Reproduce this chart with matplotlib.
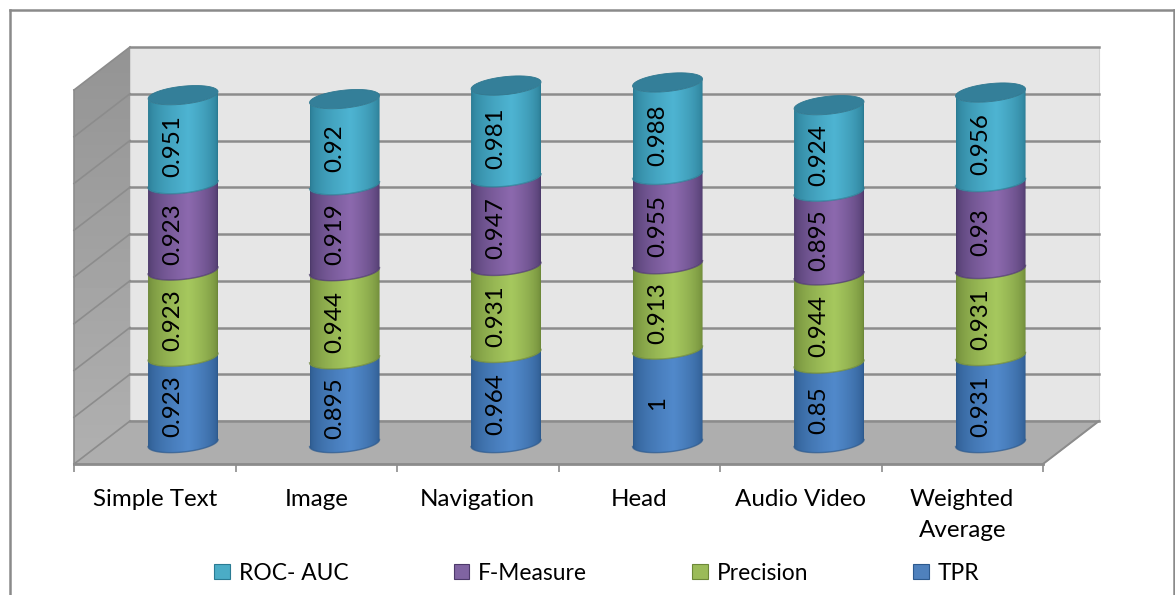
"""Stacked cylinder chart of classifier scores per page element."""

import numpy as np
import matplotlib
matplotlib.use("Agg")
import matplotlib.pyplot as plt
from matplotlib.colors import to_rgb
from matplotlib.patches import Patch, PathPatch, Polygon
from matplotlib.path import Path
from matplotlib.transforms import IdentityTransform

W, H = 1175, 595

categories = ["Simple Text", "Image", "Navigation", "Head", "Audio Video", "Weighted\nAverage"]
tpr = [0.923, 0.895, 0.964, 1, 0.85, 0.931]
precision = [0.923, 0.944, 0.931, 0.913, 0.944, 0.931]
f_measure = [0.923, 0.919, 0.947, 0.955, 0.895, 0.93]
roc_auc = [0.951, 0.92, 0.981, 0.988, 0.924, 0.956]

series_names = ["TPR", "Precision", "F-Measure", "ROC- AUC"]
# edge, centre and swatch colour for each series
shades = {
    "TPR": ("#2d5a8e", "#5189cb", "#4f81bd"),
    "Precision": ("#6d8838", "#a6c85e", "#9bbb59"),
    "F-Measure": ("#4d3a6b", "#8c69ae", "#8064a2"),
    "ROC- AUC": ("#2a7b93", "#4eb4d2", "#4bacc6"),
}

plt.rcParams["font.family"] = ["Lato", "DejaVu Sans"]
TXT = 17.4

fig = plt.figure(figsize=(W / 100, H / 100), dpi=100)
# the axes box is the front plane of the 3D box, in pixels from the top left
L, R, T, B = 74, 1043, 90, 464
ax = fig.add_axes([L / W, 1 - B / H, (R - L) / W, (B - T) / H])
ax.set_xlim(-0.5, 5.5)
ax.set_ylim(0, 4)
ax.patch.set_visible(False)
for s in ax.spines.values():
    s.set_visible(False)
ax.set_yticks(np.arange(0, 4.5, 0.5))
ax.set_yticklabels([])
ax.tick_params(axis="y", length=0)
ax.set_xticks(np.arange(-0.5, 6.0, 1))
ax.set_xticklabels([])
ax.tick_params(axis="x", length=6, width=1.2, color="#8c8c8c")

DX, DY = 56, 43       # depth of the box
CX, CY = 28.3, 21     # cylinders stand halfway into it
ident = IdentityTransform()


def px(x, y, dx=0.0, dy=0.0):
    p = ax.transData.transform((x, y))
    return p[0] + dx, p[1] + dy


def poly(pts, **kw):
    fig.add_artist(Polygon(pts, closed=True, transform=ident, **kw))


def line(a, b, **kw):
    ax.plot([a[0], b[0]], [a[1], b[1]], transform=ident, clip_on=False, **kw)


# outer frame
for a, b in [((10, 10), (1174, 10)), ((10, 10), (10, 595)), ((1174, 10), (1174, 595))]:
    line((a[0], H - a[1]), (b[0], H - b[1]), color="#8a8a8a", lw=1.8, zorder=1)

# walls and floor
x0, x1 = -0.5, 5.5
poly([px(x0, 0, DX, DY), px(x1, 0, DX, DY), px(x1, 4, DX, DY), px(x0, 4, DX, DY)],
     facecolor="#e6e6e6", edgecolor="#d4d4d4", lw=0.8, zorder=-3)
poly([px(x0, 0), px(x1, 0), px(x1, 0, DX, DY), px(x0, 0, DX, DY)],
     facecolor="#aeaeae", edgecolor="#9a9a9a", lw=0.8, zorder=-3)

# side wall gets lighter towards the floor
side = [px(x0, 0), px(x0, 0, DX, DY), px(x0, 4, DX, DY), px(x0, 4)]
side_im = ax.imshow(np.linspace(0.58, 0.69, 64)[:, None], cmap="gray", vmin=0, vmax=1,
                    extent=(px(x0, 0)[0], px(x0, 0, DX)[0], px(x0, 0)[1], px(x0, 4, 0, DY)[1]),
                    transform=ident, aspect="auto", zorder=0.5)
side_im.set_clip_box(fig.bbox)
side_im.set_clip_path(PathPatch(Path(np.array(side + side[:1])), transform=ident))

# gridlines run along the side wall and across the back
for v in ax.get_yticks():
    line(px(x0, v), px(x0, v, DX, DY), color="#8c8c8c", lw=1.2, zorder=1.5)
    line(px(x0, v, DX, DY), px(x1, v, DX, DY), color="#8c8c8c", lw=1.8, zorder=1.5)
line(px(x1, 0), px(x1, 0, DX, DY), color="#8c8c8c", lw=1.4, zorder=1.5)
line(px(x0, 0), px(x1, 0), color="#8c8c8c", lw=2, zorder=1.6)
line(px(x0, 0), px(x0, 4), color="#8c8c8c", lw=1.2, zorder=1.6)

RX, RY, TILT = 35, 9, 0.1


def arc(cx, cy, t0, t1, n=50):
    t = np.linspace(t0, t1, n)
    return np.c_[cx + RX * np.cos(t), cy + RY * np.sin(t) + TILT * RX * np.cos(t)]


def gradient(name):
    edge, mid, _ = shades[name]
    e, m = np.array(to_rgb(edge)), np.array(to_rgb(mid))
    u = np.linspace(0, 1, 70)
    k = np.clip(1 - np.abs(u - 0.58) / np.where(u < 0.58, 0.58, 0.42), 0, 1) ** 0.55
    return (e + (m - e) * k[:, None])[None, :, :]


def segment(i, y0, y1, name, z):
    cx, b = px(i, y0, CX, CY)
    _, t = px(i, y1, CX, CY)
    bottom = arc(cx, b, np.pi, 2 * np.pi)
    top = arc(cx, t, 2 * np.pi, np.pi)
    clip = PathPatch(Path(np.r_[bottom, top, bottom[:1]]), transform=ident)
    im = ax.imshow(gradient(name), extent=(cx - RX, cx + RX, b - RY - 6, t + RY + 6),
                   transform=ident, aspect="auto", zorder=z, interpolation="bilinear")
    im.set_clip_box(fig.bbox)
    im.set_clip_path(clip)
    ax.plot(bottom[:, 0], bottom[:, 1], transform=ident, color=shades[name][0],
            lw=1.0, alpha=0.7, zorder=z + 0.01, clip_on=False)
    return cx, t


stack = [tpr, precision, f_measure, roc_auc]
for i in range(len(categories)):
    y0 = 0.0
    for k, name in enumerate(series_names):
        val = stack[k][i]
        cx, t = segment(i, y0, y0 + val, name, 2 + k)
        mx, my = px(i, y0 + val / 2, CX, CY)
        ax.text(mx - 10, my - 6.5, f"{val:g}", transform=ident, rotation=90, ha="center",
                va="center", fontsize=TXT, color="black", zorder=8)
        y0 += val
    # top face of the cylinder
    poly(arc(cx, t, 0, 2 * np.pi), facecolor="#347f99", edgecolor="#2f7890", lw=0.6, zorder=7)
    # category label sits under the front plane
    lx, _ = px(i, 0)
    ax.text(lx, H - 489, categories[i], transform=ident, ha="center", va="top",
            fontsize=TXT, linespacing=1.56, color="black")

ax.set_xlim(-0.5, 5.5)
ax.set_ylim(0, 4)

handles = [Patch(facecolor=shades[n][2], edgecolor=shades[n][0], lw=0.8) for n in series_names[::-1]]
fig.legend(handles, series_names[::-1], ncol=4, frameon=False, fontsize=16.4,
           loc="center", bbox_to_anchor=(597 / W, 1 - 573 / H), handlelength=0.69, handleheight=0.69,
           handletextpad=0.4, columnspacing=4.6)

fig.savefig("out.png", dpi=100)
